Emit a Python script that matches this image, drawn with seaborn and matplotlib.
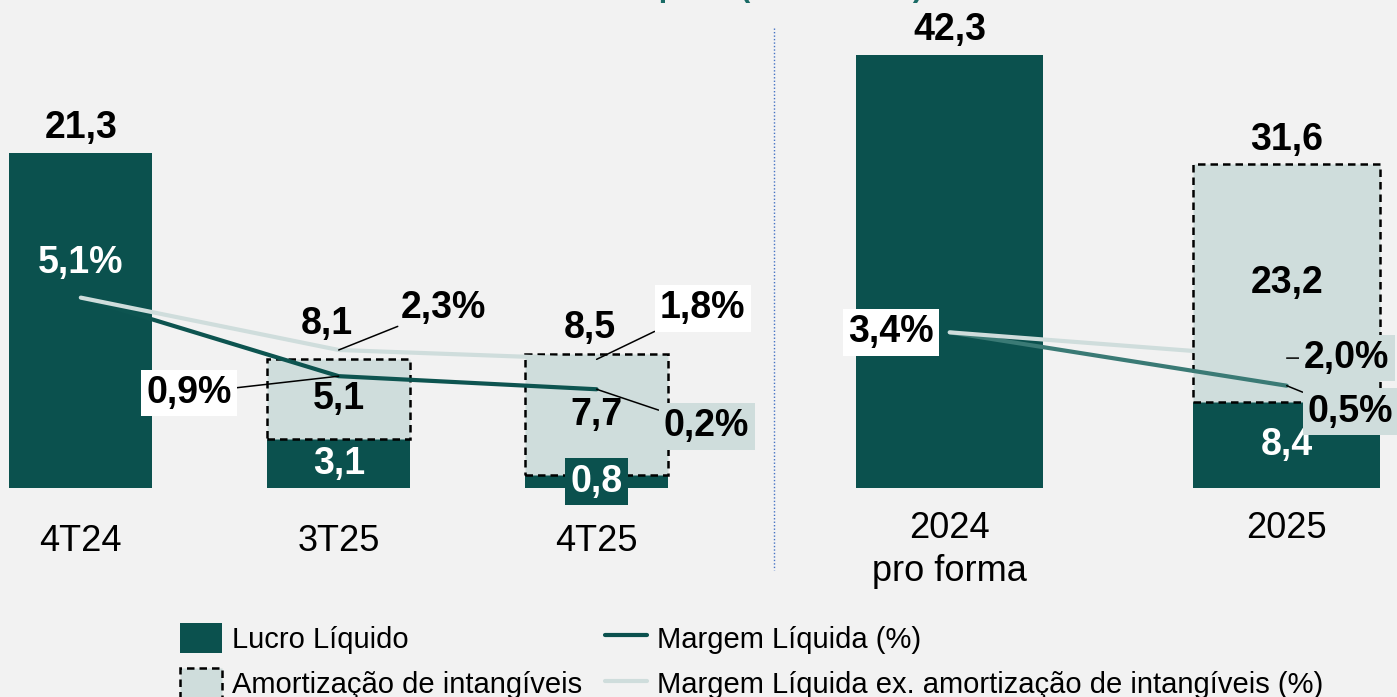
import numpy as np
import pandas as pd
import matplotlib
matplotlib.use("Agg")
import matplotlib.pyplot as plt
import seaborn as sns
from matplotlib.patches import Patch
from matplotlib.lines import Line2D

# ---------------- data ----------------
cats_q = ["4T24", "3T25", "4T25"]
lucro_q = [21.3, 3.1, 0.8]
amort_q = [np.nan, 5.1, 7.7]
totals_q = [21.3, 8.1, 8.5]
margem_q = [5.1, 0.9, 0.2]
margem_ex_q = [5.1, 2.3, 1.8]

cats_y = ["2024\npro forma", "2025"]
lucro_y = [42.3, 8.4]
amort_y = [np.nan, 23.2]
totals_y = [42.3, 31.6]
margem_y = [3.4, 0.5]
margem_ex_y = [3.4, 2.0]

title = "Lucro Líquido (R$ milhões)"
legend_labels = ["Lucro Líquido", "Amortização de intangíveis",
                 "Margem Líquida (%)",
                 "Margem Líquida ex. amortização de intangíveis (%)"]

# ---------------- style ----------------
BG = "#f2f2f2"
DARK = "#0b514e"
LIGHT = "#cfdddc"
LINE_DARK_L = "#0d5450"
LINE_DARK_R = "#3a7a75"
W, H = 1397, 697
VAL_FS = 27

sns.set_style("white")
plt.rcParams["font.family"] = ["Liberation Sans", "DejaVu Sans"]
plt.rcParams["text.color"] = "black"

fig = plt.figure(figsize=(W / 100, H / 100), dpi=100, facecolor=BG)


def fmt(v, pct=False):
    s = f"{v:.1f}".replace(".", ",")
    return s + "%" if pct else s


def px_axes(x0, x1, ytop, ybot):
    return fig.add_axes([x0 / W, 1 - ybot / H, (x1 - x0) / W, (ybot - ytop) / H])


def panel(ax, cats, lucro, amort, totals, ylim_bar, ylim_pct, xlim,
          marg, marg_ex, line_dark, total_off, pct_specs, tick_pad):
    df = pd.DataFrame({"cat": cats, "lucro": lucro, "amort": amort})
    sns.barplot(data=df, x="cat", y="lucro", order=cats, color=DARK,
                saturation=1, width=0.555, errorbar=None, linewidth=0, ax=ax,
                zorder=2)
    dfa = df.dropna(subset=["amort"])
    if len(dfa):
        sns.barplot(data=dfa, x="cat", y="amort", order=cats, color=LIGHT,
                    saturation=1, width=0.555, errorbar=None,
                    bottom=dfa["lucro"].values, edgecolor="black",
                    linestyle=(0, (3, 2)), linewidth=1.8, ax=ax, zorder=2)
    ax.set_ylim(*ylim_bar)
    ax.set_xlim(*xlim)
    ax.set_facecolor("none")
    for s in ax.spines.values():
        s.set_visible(False)
    ax.set_yticks([])
    ax.set_xlabel("")
    ax.set_ylabel("")
    ax.tick_params(axis="x", length=0, pad=tick_pad, labelsize=26,
                   labelcolor="black")

    # bar value labels
    for i, c in enumerate(cats):
        has_am = not np.isnan(amort[i])
        top = lucro[i] + (amort[i] if has_am else 0)
        ax.annotate(fmt(totals[i]), xy=(i, top), xytext=total_off[i],
                    textcoords="offset pixels", ha="center", va="center",
                    fontsize=VAL_FS, weight="bold", color="black", zorder=5)
        if has_am:
            bb = None
            if lucro[i] < 2:
                bb = dict(boxstyle="square,pad=0.15", fc=DARK, ec="none")
            ax.text(i, lucro[i] / 2, fmt(lucro[i]), ha="center", va="center",
                    fontsize=VAL_FS, weight="bold", color="white", bbox=bb,
                    zorder=5)
            ax.text(i, lucro[i] + amort[i] / 2, fmt(amort[i]), ha="center",
                    va="center", fontsize=VAL_FS, weight="bold", color="black",
                    zorder=5)

    # margin lines
    axp = ax.twinx()
    pos = np.arange(len(cats))
    sns.lineplot(x=pos, y=marg, ax=axp, color=line_dark, linewidth=3,
                 errorbar=None, solid_capstyle="round", zorder=3)
    sns.lineplot(x=pos, y=marg_ex, ax=axp, color=LIGHT, linewidth=3,
                 errorbar=None, solid_capstyle="round", zorder=3)
    axp.set_ylim(*ylim_pct)
    axp.set_xlim(*xlim)
    axp.set_axis_off()

    for series, idx, off, box, color, leader in pct_specs:
        vals = marg if series == "m" else marg_ex
        bb = None
        if box == "white":
            bb = dict(boxstyle="square,pad=0.14", fc="white", ec="none")
        elif box == "light":
            bb = dict(boxstyle="square,pad=0.14", fc=LIGHT, ec="none")
        ap = None
        if leader:
            ap = dict(arrowstyle="-", color="black", lw=1.1,
                      shrinkA=0, shrinkB=0)
        axp.annotate(fmt(vals[idx], pct=True), xy=(idx, vals[idx]),
                     xytext=off, textcoords="offset pixels", ha="center",
                     va="center", fontsize=VAL_FS, weight="bold", color=color,
                     bbox=bb, arrowprops=ap, zorder=6)
    return axp


# left panel (quarters)
axL = px_axes(0, 774, 0, 488)
panel(axL, cats_q, lucro_q, amort_q, totals_q,
      ylim_bar=(0, 488 / 15.72), ylim_pct=(-(488 - 393) / 18.7, 393 / 18.7),
      xlim=(-80.8 / 257.9, (774 - 80.8) / 257.9),
      marg=margem_q, marg_ex=margem_ex_q, line_dark=LINE_DARK_L,
      total_off=[(0, 25), (-12, 35), (-7, 26)],
      pct_specs=[("m", 0, (0, 35), None, "white", False),
                 ("m", 1, (-150, -17), "white", "black", True),
                 ("m", 2, (110, -37), "light", "black", True),
                 ("e", 1, (105, 42), None, "black", True),
                 ("e", 2, (106, 51), "white", "black", True)],
      tick_pad=26)

# right panel (years)
axR = px_axes(774, 1397, 0, 488)
panel(axR, cats_y, lucro_y, amort_y, totals_y,
      ylim_bar=(0, 488 / 10.24), ylim_pct=(-(488 - 394.9) / 18.4, 394.9 / 18.4),
      xlim=((774 - 949.7) / 337, (1397 - 949.7) / 337),
      marg=margem_y, marg_ex=margem_ex_y, line_dark=LINE_DARK_R,
      total_off=[(0, 25), (0, 24)],
      pct_specs=[("m", 0, (-59, 0), "white", "black", False),
                 ("m", 1, (64, -26), "light", "black", True),
                 ("e", 1, (60, 0), "light", "black", True)],
      tick_pad=16.5)
for t in axR.get_xticklabels():
    t.set_linespacing(1.3)

# divider
fig.add_artist(Line2D([774 / W, 774 / W], [1 - 28 / H, 1 - 570 / H],
                      transform=fig.transFigure, color="#4472c4", lw=1,
                      linestyle=(0, (1, 1.5))))

# title (mostly above the visible area, as in the reference)
fig.text(725 / W, 1 + 4 / H, title, ha="center", va="baseline", fontsize=22,
         weight="bold", color="#1a6b66")

# legend
handles = [Patch(facecolor=DARK, edgecolor="none"),
           Patch(facecolor=LIGHT, edgecolor="black", linestyle=(0, (3, 2)),
                 linewidth=1.8),
           Line2D([], [], color=DARK, lw=3),
           Line2D([], [], color=LIGHT, lw=3)]
fig.legend(handles, legend_labels, ncol=2, loc="upper left",
           bbox_to_anchor=(180 / W, 1 - 623 / H), frameon=False, fontsize=21,
           handlelength=1.44, handleheight=1.2, handletextpad=0.34,
           columnspacing=0.79, labelspacing=0.5, borderpad=0,
           borderaxespad=0, labelcolor="black")

fig.savefig("out.png", dpi=100, facecolor=BG)
